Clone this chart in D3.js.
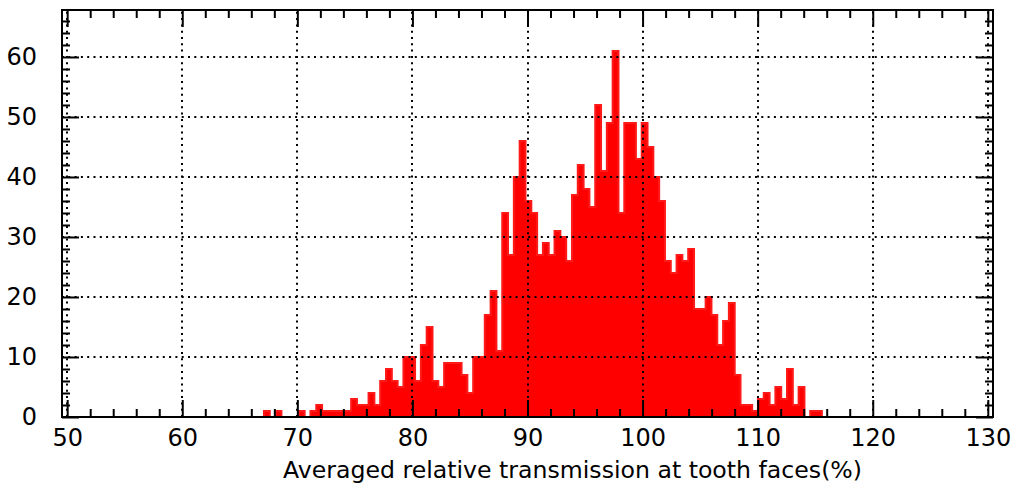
<!DOCTYPE html>
<html>
<head>
<meta charset="utf-8">
<script src="https://cdn.jsdelivr.net/npm/d3@7"></script>
<style>
  body { margin: 0; background: #fff; }
  svg { display: block; font-family: "DejaVu Sans", sans-serif; }
</style>
</head>
<body>
<div id="chart"></div>
<script>
// histogram data: 0.505 wide bins starting at 67.1
var binStart = 67.1;
var binWidth = 0.505;
var counts = [
  1, 0, 1, 0, 0, 0, 1, 0, 1, 2,
  1, 1, 1, 1, 1, 3, 2, 2, 4, 2,
  6, 8, 6, 5, 10, 10, 6, 12, 15, 6,
  5, 9, 9, 9, 7, 4, 10, 10, 17, 21,
  11, 34, 27, 40, 46, 36, 34, 27, 29, 27,
  31, 30, 26, 37, 42, 38, 35, 52, 41, 49,
  61, 34, 49, 49, 43, 49, 45, 40, 36, 26,
  24, 27, 26, 28, 18, 18, 20, 17, 12, 16,
  19, 7, 2, 2, 1, 3, 4, 2, 5, 3,
  8, 2, 5, 0, 1, 1
];

var xMajor = [50, 60, 70, 80, 90, 100, 110, 120, 130];
var yMajor = [0, 10, 20, 30, 40, 50, 60];
var xTitle = "Averaged relative transmission at tooth faces(%)";

// frame in pixels
var W = 1014, H = 487;
var fLeft = 62, fRight = 993, fTop = 10, fBottom = 417;

var x = d3.scaleLinear().domain([49.55, 130.45]).range([fLeft, fRight]);
var y = d3.scaleLinear().domain([0, 67.83]).range([fBottom, fTop]);

var svg = d3.select("#chart").append("svg")
  .attr("width", W)
  .attr("height", H);

// histogram as a step area
var pts = counts.map(function (c, i) { return { x: binStart + i * binWidth, c: c }; });
pts.push({ x: binStart + counts.length * binWidth, c: counts[counts.length - 1] });

var area = d3.area()
  .x(function (d) { return x(d.x); })
  .y0(y(0))
  .y1(function (d) { return y(d.c); })
  .curve(d3.curveStepAfter);

svg.append("path")
  .datum(pts)
  .attr("d", area)
  .attr("fill", "#ff0000")
  .attr("stroke", "#ff1a1a")
  .attr("stroke-width", 2);

// dotted grid (drawn over the bars)
var grid = svg.append("g")
  .attr("stroke", "#000")
  .attr("stroke-width", 2)
  .attr("stroke-dasharray", "2,4.3");

grid.selectAll(".vg")
  .data(xMajor)
  .enter().append("line")
  .attr("x1", function (d) { return Math.round(x(d)); })
  .attr("x2", function (d) { return Math.round(x(d)); })
  .attr("y1", fBottom)
  .attr("y2", fTop);

grid.selectAll(".hg")
  .data(yMajor.filter(function (d) { return d > 0; }))
  .enter().append("line")
  .attr("x1", fLeft)
  .attr("x2", fRight)
  .attr("y1", function (d) { return Math.round(y(d)); })
  .attr("y2", function (d) { return Math.round(y(d)); });

// minor tick values every 2
var xMinor = d3.range(50, 131, 2).filter(function (d) { return d % 10 !== 0; });
var yMinor = d3.range(2, 68, 2).filter(function (d) { return d % 10 !== 0; });

function styleAxis(g) {
  g.select(".domain").remove();
  g.selectAll("line").attr("stroke", "#000").attr("stroke-width", 2);
  g.selectAll("text")
    .attr("fill", "#000")
    .style("font-size", "24px")
    .style("font-family", "'DejaVu Sans', sans-serif");
}

// bottom axis with labels
svg.append("g")
  .attr("transform", "translate(0," + fBottom + ")")
  .call(d3.axisBottom(x).tickValues(xMajor).tickSizeInner(-17).tickSizeOuter(0).tickPadding(0))
  .call(styleAxis)
  .selectAll("text").attr("y", 29).attr("dy", 0);

svg.append("g")
  .attr("transform", "translate(0," + fBottom + ")")
  .call(d3.axisBottom(x).tickValues(xMinor).tickSizeInner(-8).tickSizeOuter(0).tickFormat(""))
  .call(styleAxis);

// top axis ticks only
svg.append("g")
  .attr("transform", "translate(0," + fTop + ")")
  .call(d3.axisTop(x).tickValues(xMajor).tickSizeInner(-17).tickSizeOuter(0).tickFormat(""))
  .call(styleAxis);

svg.append("g")
  .attr("transform", "translate(0," + fTop + ")")
  .call(d3.axisTop(x).tickValues(xMinor).tickSizeInner(-8).tickSizeOuter(0).tickFormat(""))
  .call(styleAxis);

// left axis with labels
svg.append("g")
  .attr("transform", "translate(" + fLeft + ",0)")
  .call(d3.axisLeft(y).tickValues(yMajor).tickSizeInner(-17).tickSizeOuter(0).tickPadding(25))
  .call(styleAxis);

svg.append("g")
  .attr("transform", "translate(" + fLeft + ",0)")
  .call(d3.axisLeft(y).tickValues(yMinor).tickSizeInner(-8).tickSizeOuter(0).tickFormat(""))
  .call(styleAxis);

// right axis ticks only
svg.append("g")
  .attr("transform", "translate(" + fRight + ",0)")
  .call(d3.axisRight(y).tickValues(yMajor).tickSizeInner(-17).tickSizeOuter(0).tickFormat(""))
  .call(styleAxis);

svg.append("g")
  .attr("transform", "translate(" + fRight + ",0)")
  .call(d3.axisRight(y).tickValues(yMinor).tickSizeInner(-8).tickSizeOuter(0).tickFormat(""))
  .call(styleAxis);

// frame
svg.append("rect")
  .attr("x", fLeft)
  .attr("y", fTop)
  .attr("width", fRight - fLeft)
  .attr("height", fBottom - fTop)
  .attr("fill", "none")
  .attr("stroke", "#000")
  .attr("stroke-width", 2);

// x axis title
svg.append("text")
  .attr("x", 283)
  .attr("y", 478)
  .attr("textLength", 579)
  .attr("lengthAdjust", "spacingAndGlyphs")
  .style("font-size", "23.5px")
  .attr("fill", "#000")
  .text(xTitle);
</script>
</body>
</html>
